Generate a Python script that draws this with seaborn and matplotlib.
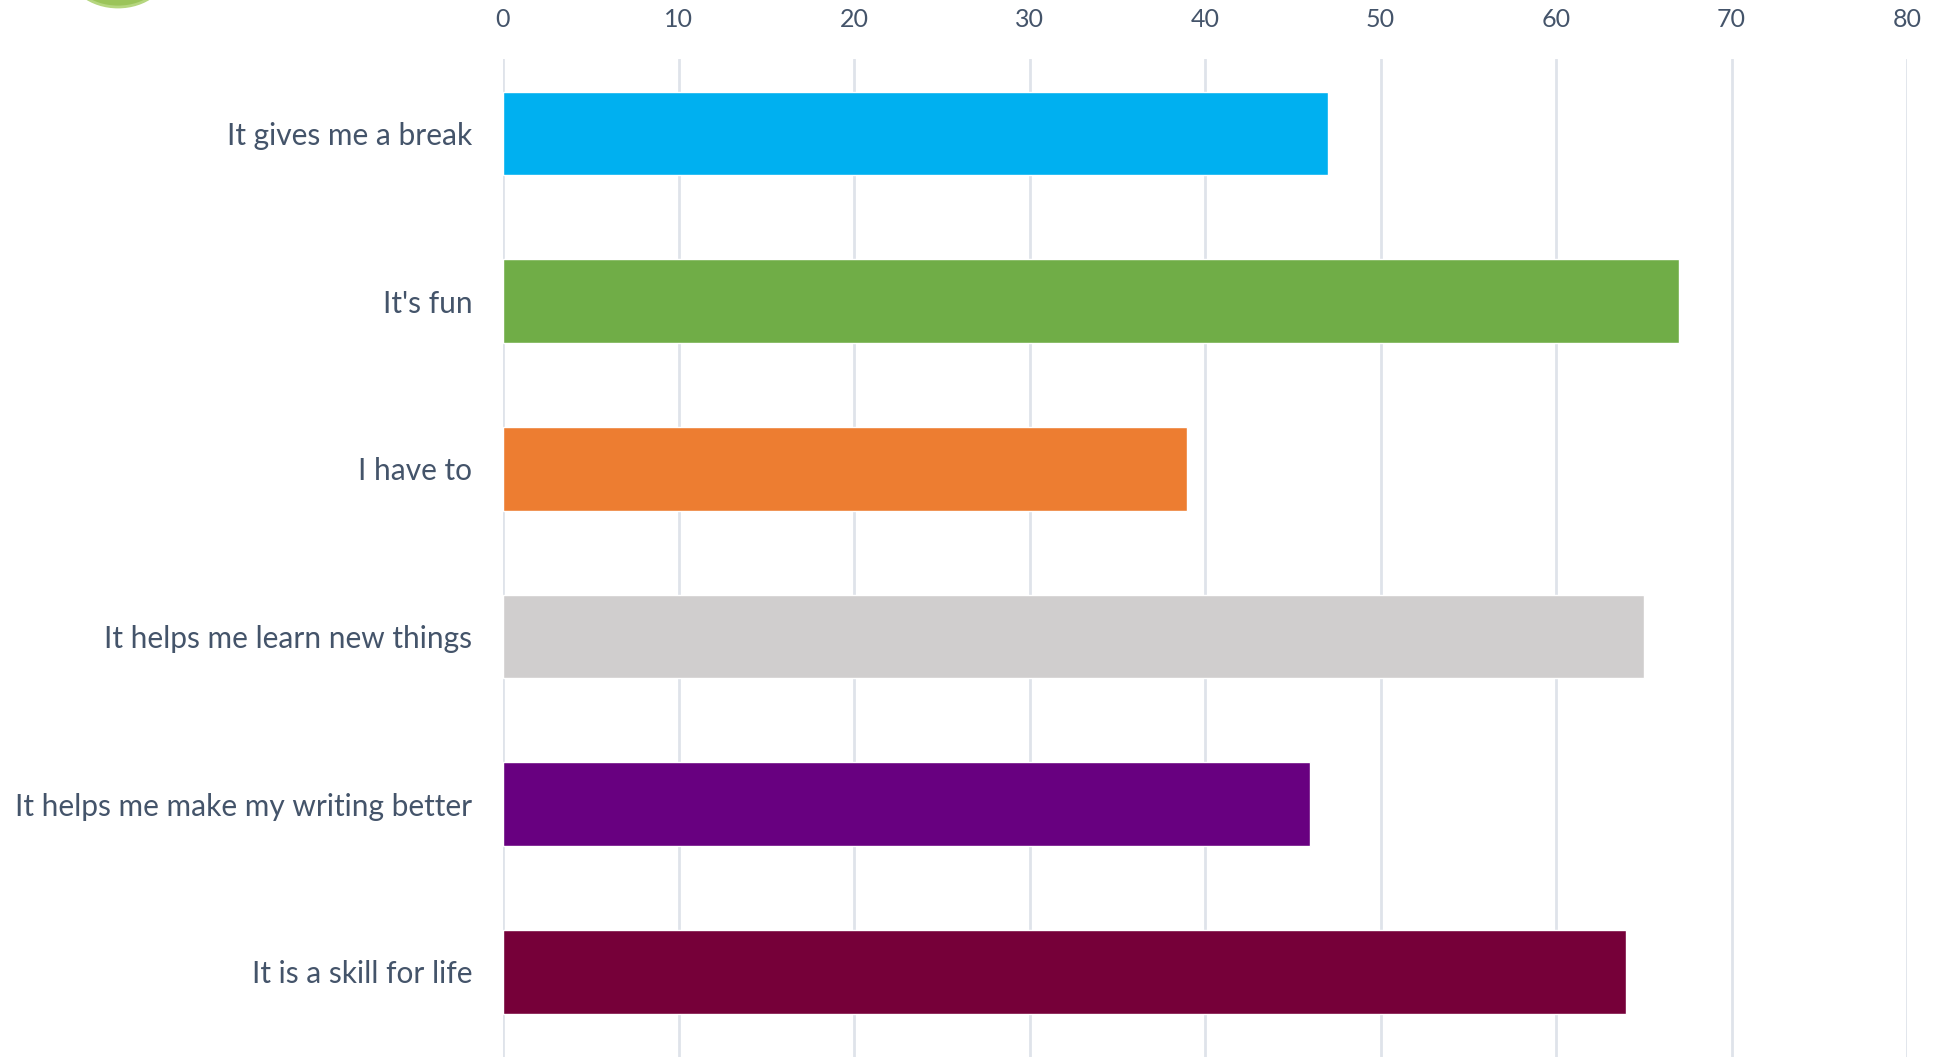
import matplotlib
matplotlib.use("Agg")
import matplotlib.pyplot as plt
from matplotlib.patches import Ellipse
import seaborn as sns
import pandas as pd

categories = ["It gives me a break", "It's fun", "I have to",
              "It helps me learn new things", "It helps me make my writing better",
              "It is a skill for life"]
values = [47, 67, 39, 65, 46, 64]
colors = ["#00B0F0", "#70AD47", "#ED7D31", "#D0CECE", "#680080", "#760039"]
xticks = [0, 10, 20, 30, 40, 50, 60, 70, 80]

sns.set_theme(style="white")
plt.rcParams['font.family'] = ['Lato', 'DejaVu Sans']

df = pd.DataFrame({"reason": categories, "count": values})

W, H = 1939, 1057
fig = plt.figure(figsize=(W / 100, H / 100), dpi=100)
left, right, top, bottom = 503, 1907, 59, 1057
ax = fig.add_axes([left / W, 1 - bottom / H, (right - left) / W, (bottom - top) / H])

sns.barplot(data=df, x="count", y="reason", hue="reason", palette=colors,
            order=categories, hue_order=categories, width=0.5, dodge=False,
            legend=False, saturation=1, ax=ax, zorder=3)

ax.set_xlim(0, 80)
ax.set_ylim(5.507, -0.444)
ax.set_xticks(xticks)
ax.xaxis.tick_top()
ax.grid(axis="x", color="#DFE3EA", linewidth=2, zorder=0)
ax.set_axisbelow(True)
for s in ax.spines.values():
    s.set_visible(False)
ax.tick_params(axis="x", length=0, pad=20, labelsize=18, labelcolor="#44546A")
ax.tick_params(axis="y", length=0, pad=22, labelsize=21.5, labelcolor="#44546A")
ax.set_xlabel("")
ax.set_ylabel("")

# decorative green logo edge at top-left
fig.patches.append(Ellipse((118 / W, 1 - (-32) / H), 100 / W, 78 / H,
                           transform=fig.transFigure, facecolor="#9BC45A",
                           edgecolor="#B5D67F", linewidth=2, figure=fig))

fig.savefig("out.png", dpi=100)
